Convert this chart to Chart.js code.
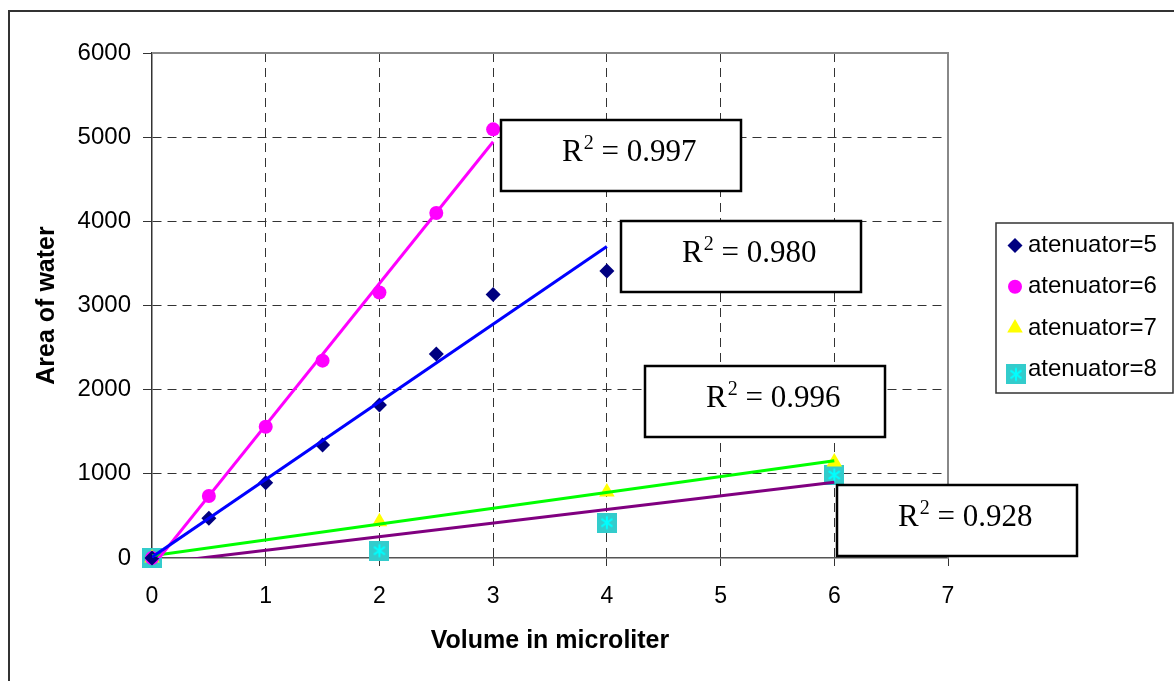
<!DOCTYPE html>
<html>
<head>
<meta charset="utf-8">
<title>Area of water vs volume</title>
<script src="https://cdn.jsdelivr.net/npm/chart.js@4.4.0/dist/chart.umd.min.js"></script>
<style>
  html, body { margin: 0; padding: 0; background: #fff; overflow: hidden; }
  #wrap { position: relative; width: 1174px; height: 681px; }
  #frame { position: absolute; left: 8px; top: 10px; width: 1300px; height: 800px; border: 2px solid #333; box-sizing: border-box; }
  #chart { position: absolute; left: 0; top: 0; }
</style>
</head>
<body>
<div id="wrap">
  <div id="frame"></div>
  <canvas id="chart" width="1174" height="681"></canvas>
</div>
<script>
const volume5 = [0, 0.5, 1, 1.5, 2, 2.5, 3, 4];
const area5 = [0, 471, 895, 1343, 1818, 2424, 3130, 3410];
const volume6 = [0, 0.5, 1, 1.5, 2, 2.5, 3];
const area6 = [0, 737, 1560, 2345, 3155, 4099, 5093];
const volume78 = [0, 2, 4, 6];
const area7 = [0, 431, 785, 1140];
const area8 = [0, 87, 420, 986];

// Linear trendlines (start and end of each fitted line)
const trendX5 = [0, 4];
const trendY5 = [10, 3700];
const trendX6 = [0, 3];
const trendY6 = [-105, 4946];
const trendX7 = [0, 6];
const trendY7 = [28, 1156];
const trendX8 = [0, 6];
const trendY8 = [-70, 899];

const seriesLabels = ['atenuator=5', 'atenuator=6', 'atenuator=7', 'atenuator=8'];
const r2Values = ['0.997', '0.980', '0.996', '0.928'];
const xTicks = [0, 1, 2, 3, 4, 5, 6, 7];
const yTicks = [0, 1000, 2000, 3000, 4000, 5000, 6000];

// where the R² boxes sit (top-left corner, in axis units)
const r2Anchors = [
  { x: 3.071, y: 5204 },
  { x: 4.125, y: 4007 },
  { x: 4.336, y: 2285 },
  { x: 6.022, y: 867 }
];

function toPoints(xs, ys) {
  return xs.map((x, i) => ({ x: x, y: ys[i] }));
}

// cyan square with an asterisk, like the Excel marker
function makeStarSquare(size) {
  const c = document.createElement('canvas');
  c.width = size;
  c.height = size;
  const g = c.getContext('2d');
  g.fillStyle = '#33CCCC';
  g.fillRect(0, 0, size, size);
  g.strokeStyle = '#00FFFF';
  g.lineWidth = 2;
  const m = size / 2, r = size * 0.32;
  g.beginPath();
  g.moveTo(m, m - r); g.lineTo(m, m + r);
  g.moveTo(m - r * 0.87, m - r * 0.6); g.lineTo(m + r * 0.87, m + r * 0.6);
  g.moveTo(m - r * 0.87, m + r * 0.6); g.lineTo(m + r * 0.87, m - r * 0.6);
  g.stroke();
  return c;
}
const starSquare = makeStarSquare(20);

const sansFont = '"Liberation Sans", Arial, sans-serif';
const serifFont = '"Liberation Serif", "Times New Roman", serif';

function trend(label, xs, ys, color) {
  return {
    label: label,
    data: toPoints(xs, ys),
    showLine: true,
    borderColor: color,
    borderWidth: 3,
    pointRadius: 0,
    pointHoverRadius: 0,
    isTrend: true
  };
}

function markers(label, xs, ys, style, radius, color) {
  return {
    label: label,
    data: toPoints(xs, ys),
    showLine: false,
    pointStyle: style,
    pointRadius: radius,
    pointHoverRadius: radius,
    pointBackgroundColor: color,
    backgroundColor: color,
    pointBorderWidth: 0,
    borderWidth: 0,
    clip: false
  };
}

// Frame on top/right of the plot area
const plotFrame = {
  id: 'plotFrame',
  beforeDatasetsDraw(chart) {
    const { ctx, chartArea: a } = chart;
    ctx.save();
    ctx.strokeStyle = '#888';
    ctx.lineWidth = 2;
    ctx.beginPath();
    ctx.moveTo(a.left, a.top);
    ctx.lineTo(a.right, a.top);
    ctx.lineTo(a.right, a.bottom);
    ctx.stroke();
    ctx.restore();
  }
};

// R² text boxes
const r2Boxes = {
  id: 'r2Boxes',
  afterDatasetsDraw(chart) {
    const { ctx, scales } = chart;
    const w = 240, h = 71;
    ctx.save();
    r2Anchors.forEach((p, i) => {
      const x = Math.round(scales.x.getPixelForValue(p.x));
      const y = Math.round(scales.y.getPixelForValue(p.y));
      ctx.fillStyle = '#fff';
      ctx.fillRect(x, y, w, h);
      ctx.lineWidth = 2.5;
      ctx.strokeStyle = '#000';
      ctx.strokeRect(x, y, w, h);
      ctx.fillStyle = '#000';
      ctx.textBaseline = 'alphabetic';
      ctx.textAlign = 'left';
      let tx = x + 61;
      const ty = y + 41;
      ctx.font = '31px ' + serifFont;
      ctx.fillText('R', tx, ty);
      tx += ctx.measureText('R').width + 1;
      ctx.font = '20px ' + serifFont;
      ctx.fillText('2', tx, ty - 12);
      tx += ctx.measureText('2').width;
      ctx.font = '31px ' + serifFont;
      ctx.fillText(' = ' + r2Values[i], tx, ty);
    });
    ctx.restore();
  }
};

// Boxed legend at the right, only the marker series
const boxLegend = {
  id: 'boxLegend',
  afterDraw(chart) {
    const { ctx } = chart;
    const left = 996, top = 223, right = 1173, bottom = 393;
    ctx.save();
    ctx.fillStyle = '#fff';
    ctx.fillRect(left, top, right - left, bottom - top);
    ctx.strokeStyle = '#333';
    ctx.lineWidth = 1.5;
    ctx.strokeRect(left, top, right - left, bottom - top);
    const items = chart.data.datasets.filter(d => !d.isTrend);
    items.forEach((d, i) => {
      const cy = top + 22.5 + i * 41.3;
      ctx.fillStyle = d.pointBackgroundColor;
      const opts = { pointStyle: d.pointStyle, rotation: 0, radius: d.pointRadius, borderWidth: 0 };
      const sx = d.pointStyle === starSquare ? 1016 : 1015;
      const sy = d.pointStyle === starSquare ? cy + 5 : cy;
      if (Chart.helpers && Chart.helpers.drawPoint) {
        Chart.helpers.drawPoint(ctx, opts, sx, sy);
      }
      ctx.fillStyle = '#000';
      ctx.font = '24px ' + sansFont;
      ctx.textBaseline = 'middle';
      ctx.textAlign = 'left';
      ctx.fillText(d.label, 1028, cy);
    });
    ctx.restore();
  }
};

function edgeAware(edges) {
  return c => (c.tick && edges.indexOf(c.tick.value) >= 0) ? 'rgba(0,0,0,0)' : '#333';
}

new Chart(document.getElementById('chart'), {
  type: 'scatter',
  data: {
    datasets: [
      trend('trend5', trendX5, trendY5, '#0000FF'),
      trend('trend6', trendX6, trendY6, '#FF00FF'),
      trend('trend7', trendX7, trendY7, '#00FF00'),
      trend('trend8', trendX8, trendY8, '#800080'),
      markers(seriesLabels[0], volume5, area5, 'rectRot', 7.5, '#000080'),
      markers(seriesLabels[1], volume6, area6, 'circle', 7, '#FF00FF'),
      markers(seriesLabels[2], volume78, area7, 'triangle', 9, '#FFFF00'),
      markers(seriesLabels[3], volume78, area8, starSquare, 10, '#33CCCC')
    ]
  },
  options: {
    responsive: false,
    animation: false,
    events: [],
    layout: { padding: { left: 0, top: 53, right: 226, bottom: 0 } },
    plugins: {
      legend: { display: false },
      tooltip: { enabled: false }
    },
    scales: {
      x: {
        type: 'linear',
        min: 0,
        max: 7,
        afterBuildTicks: s => { s.ticks = xTicks.map(v => ({ value: v })); },
        afterFit: s => { s.height = 123; },
        grid: {
          color: edgeAware([0, 7]),
          lineWidth: 1,
          tickColor: '#333',
          tickLength: 8,
          tickWidth: 1
        },
        border: { display: true, color: '#555', width: 1.5, dash: [9, 6] },
        ticks: {
          color: '#000',
          padding: 17,
          maxRotation: 0,
          callback: v => String(v),
          font: { family: sansFont, size: 23 }
        },
        title: {
          display: true,
          text: 'Volume in microliter',
          color: '#000',
          font: { family: sansFont, size: 25, weight: 'bold' },
          padding: { top: 0, bottom: 25 }
        }
      },
      y: {
        type: 'linear',
        min: 0,
        max: 6000,
        afterBuildTicks: s => { s.ticks = yTicks.map(v => ({ value: v })); },
        afterFit: s => { s.width = 152; },
        grid: {
          color: edgeAware([0, 6000]),
          lineWidth: 1,
          tickColor: '#333',
          tickLength: 9,
          tickWidth: 1
        },
        border: { display: true, color: '#333', width: 1.5, dash: [9, 6] },
        ticks: {
          color: '#000',
          padding: 12,
          callback: v => String(v),
          font: { family: sansFont, size: 24 }
        },
        title: {
          display: true,
          text: 'Area of water',
          color: '#000',
          font: { family: sansFont, size: 25, weight: 'bold' },
          padding: { top: 32, bottom: 0 }
        }
      }
    }
  },
  plugins: [plotFrame, r2Boxes, boxLegend]
});
</script>
</body>
</html>
